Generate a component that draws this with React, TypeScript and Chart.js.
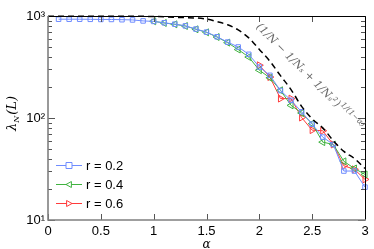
import React, { useEffect, useRef } from "react";
import { Chart, registerables } from "chart.js";

Chart.register(...registerables);

const blueAlpha = [0.1, 0.2, 0.3, 0.4, 0.5, 0.6, 0.7, 0.8, 0.9, 1.0, 1.1, 1.2, 1.3, 1.4, 1.5, 1.6, 1.7, 1.8, 1.9, 2.0, 2.1, 2.2, 2.3, 2.4, 2.5, 2.6, 2.7, 2.8, 2.9, 3.0];
const blueValues = [930, 930, 930, 928, 925, 925, 920, 915, 895, 885, 858, 832, 800, 745, 695, 625, 555, 497, 421, 316, 262, 186, 149, 115, 87, 65, 55, 30.2, 30.2, 21];

const greenAlpha = [1.0, 1.1, 1.2, 1.3, 1.4, 1.5, 1.6, 1.7, 1.8, 1.9, 2.0, 2.1, 2.2, 2.3, 2.4, 2.5, 2.6, 2.7, 2.8, 2.9, 3.0];
const greenValues = [887, 854, 829, 798, 741, 692, 622, 548, 469, 396, 294, 248, 187, 133, 112, 88, 58, 55, 37.6, 32, 28];

const redAlpha = [2.0, 2.1, 2.2, 2.3, 2.4, 2.5, 2.6, 2.7, 2.8, 2.9, 3.0];
const redValues = [329, 252, 155, 155, 101, 76, 75, 55, 34, 31.4, 25];

const boundAlpha = [0, 0.5, 1.0, 1.2, 1.5, 1.6, 1.7, 1.8, 1.9, 2.0, 2.1, 2.2, 2.3, 2.4, 2.5, 2.6, 2.7, 2.8, 2.9, 3.0];
const boundValues = [995, 995, 990, 970, 935, 880, 820, 730, 610, 470, 360, 260, 190, 130, 98, 80, 60, 47, 40, 32];

const xTicks = [0, 0.5, 1, 1.5, 2, 2.5, 3];
const yMajor = [10, 100, 1000];
const yTickLabels: Record<number, string> = { 10: "10\u00b9", 100: "10\u00b2", 1000: "10\u00b3" };
const seriesLabels = ["r = 0.2", "r = 0.4", "r = 0.6"];

const BLUE = "#6f8cff";
const GREEN = "#3fb23f";
const RED = "#ff3b3b";
const SANS = "'Liberation Sans', Arial, sans-serif";
const SERIF = "'DejaVu Serif', 'Liberation Serif', serif";

const toXY = (xs: number[], ys: number[]) => xs.map((x, i) => ({ x, y: ys[i] }));

function drawMarker(ctx: CanvasRenderingContext2D, kind: string, x: number, y: number, r: number, color: string) {
  ctx.save();
  ctx.strokeStyle = color;
  ctx.fillStyle = "#fff";
  ctx.lineWidth = 1;
  ctx.beginPath();
  if (kind === "rect") {
    ctx.rect(x - r, y - r, 2 * r, 2 * r);
  } else if (kind === "left") {
    ctx.moveTo(x - r, y);
    ctx.lineTo(x + r * 0.8, y - r);
    ctx.lineTo(x + r * 0.8, y + r);
    ctx.closePath();
  } else {
    ctx.moveTo(x + r, y);
    ctx.lineTo(x - r * 0.8, y - r);
    ctx.lineTo(x - r * 0.8, y + r);
    ctx.closePath();
  }
  ctx.fill();
  ctx.stroke();
  ctx.restore();
}

const decorPlugin = {
  id: "decor",
  afterDraw(chart: any) {
    const { ctx, chartArea: a, scales } = chart;
    const xs = scales.x;
    const ys = scales.y;
    ctx.save();
    // ticks
    ctx.strokeStyle = "#555";
    ctx.lineWidth = 1;
    xTicks.forEach((v) => {
      const px = Math.round(xs.getPixelForValue(v)) + 0.5;
      ctx.beginPath();
      ctx.moveTo(px, a.bottom);
      ctx.lineTo(px, a.bottom - 6);
      ctx.moveTo(px, a.top);
      ctx.lineTo(px, a.top + 6);
      ctx.stroke();
    });
    for (let d = 10; d < 1000; d *= 10) {
      for (let m = 1; m < 10; m++) {
        const v = d * m;
        const py = Math.round(ys.getPixelForValue(v)) + 0.5;
        const len = m === 1 ? 7 : 4;
        ctx.beginPath();
        ctx.moveTo(a.left, py);
        ctx.lineTo(a.left + len, py);
        ctx.moveTo(a.right, py);
        ctx.lineTo(a.right - len, py);
        ctx.stroke();
      }
    }
    // frame
    ctx.strokeStyle = "#000";
    ctx.lineWidth = 1;
    ctx.beginPath();
    ctx.moveTo(a.left, a.top + 0.5);
    ctx.lineTo(a.right + 0.5, a.top + 0.5);
    ctx.lineTo(a.right + 0.5, a.bottom);
    ctx.stroke();
    ctx.strokeStyle = "#808080";
    ctx.lineWidth = 1.6;
    ctx.beginPath();
    ctx.moveTo(a.left, a.top);
    ctx.lineTo(a.left, a.bottom);
    ctx.lineTo(a.right + 1, a.bottom);
    ctx.stroke();

    // legend
    const colors = [BLUE, GREEN, RED];
    const kinds = ["rect", "left", "right"];
    seriesLabels.forEach((lab, i) => {
      const y = a.top + 149 + i * 19;
      const x0 = a.left + 8;
      ctx.strokeStyle = colors[i];
      ctx.lineWidth = 1;
      ctx.beginPath();
      ctx.moveTo(x0, y + 0.5);
      ctx.lineTo(x0 + 26, y + 0.5);
      ctx.stroke();
      drawMarker(ctx, kinds[i], x0 + 13, y + 0.5, 3, colors[i]);
      ctx.fillStyle = "#000";
      ctx.font = `13px ${SANS}`;
      ctx.textAlign = "left";
      ctx.textBaseline = "middle";
      ctx.fillText(lab, x0 + 30, y + 1);
    });

    // y title
    ctx.save();
    ctx.translate(13, (a.top + a.bottom) / 2 - 4);
    ctx.rotate(-Math.PI / 2);
    ctx.fillStyle = "#000";
    ctx.textBaseline = "middle";
    ctx.textAlign = "left";
    ctx.font = `italic 13px ${SERIF}`;
    const p1 = "\u03bb";
    const w1 = ctx.measureText(p1).width;
    ctx.font = `italic 8px ${SERIF}`;
    const p2 = "N";
    const w2 = ctx.measureText(p2).width;
    ctx.font = `italic 13px ${SERIF}`;
    const p3 = "(L)";
    const w3 = ctx.measureText(p3).width;
    let sx = -(w1 + w2 + w3) / 2;
    ctx.fillText(p1, sx, 0);
    sx += w1;
    ctx.font = `italic 8px ${SERIF}`;
    ctx.fillText(p2, sx, 4);
    sx += w2 + 1;
    ctx.font = `italic 13px ${SERIF}`;
    ctx.fillText(p3, sx, 0);
    ctx.restore();

    // x title
    ctx.fillStyle = "#000";
    ctx.font = `italic 12px ${SERIF}`;
    ctx.textAlign = "center";
    ctx.textBaseline = "middle";
    ctx.fillText("\u03b1", (a.left + a.right) / 2, 245);

    // formula annotation
    ctx.save();
    ctx.translate(xs.getPixelForValue(2.47), ys.getPixelForValue(255));
    ctx.rotate((45 * Math.PI) / 180);
    ctx.fillStyle = "#6a6a6a";
    ctx.textAlign = "left";
    ctx.textBaseline = "middle";
    ctx.font = `italic 11px ${SERIF}`;
    const main = "(1/N \u2212 1/N\u209b + 1/N\u209b\u00b2)";
    const wm = ctx.measureText(main).width;
    ctx.font = `italic 8px ${SERIF}`;
    const sup = "1/(1\u2212\u03b1)";
    const ws = ctx.measureText(sup).width;
    const start = -(wm + ws) / 2;
    ctx.font = `italic 11px ${SERIF}`;
    ctx.fillText(main, start, 0);
    ctx.font = `italic 8px ${SERIF}`;
    ctx.fillText(sup, start + wm + 1, -4);
    ctx.restore();

    ctx.restore();
  },
};

export default function App() {
  const ref = useRef<HTMLCanvasElement>(null);
  useEffect(() => {
    if (!ref.current) return;
    const chart = new Chart(ref.current, {
      type: "line",
      data: {
        datasets: [
          {
            label: "bound",
            data: toXY(boundAlpha, boundValues),
            borderColor: "#000",
            borderWidth: 1.5,
            borderDash: [6, 4],
            pointRadius: 0,
            fill: false,
            cubicInterpolationMode: "monotone",
          },
          {
            label: seriesLabels[0],
            data: toXY(blueAlpha, blueValues),
            borderColor: BLUE,
            borderWidth: 1,
            pointStyle: "rect",
            pointRadius: 3.2,
            pointBorderColor: BLUE,
            pointBackgroundColor: "rgba(255,255,255,0)",
            pointBorderWidth: 1,
            fill: false,
          },
          {
            label: seriesLabels[1],
            data: toXY(greenAlpha, greenValues),
            borderColor: GREEN,
            borderWidth: 1,
            pointStyle: "triangle",
            pointRotation: -90,
            pointRadius: 4,
            pointBorderColor: GREEN,
            pointBackgroundColor: "rgba(255,255,255,0)",
            pointBorderWidth: 1,
            fill: false,
          },
          {
            label: seriesLabels[2],
            data: toXY(redAlpha, redValues),
            borderColor: RED,
            borderWidth: 1,
            pointStyle: "triangle",
            pointRotation: 90,
            pointRadius: 4,
            pointBorderColor: RED,
            pointBackgroundColor: "rgba(255,255,255,0)",
            pointBorderWidth: 1,
            fill: false,
          },
        ],
      },
      options: {
        responsive: false,
        animation: false,
        clip: false as any,
        layout: { padding: { top: 16, right: 9, left: 0, bottom: 0 } },
        plugins: { legend: { display: false }, tooltip: { enabled: false } },
        scales: {
          x: {
            type: "linear",
            min: 0,
            max: 3,
            grid: { display: false, drawTicks: false, tickLength: 0 },
            border: { display: false },
            afterBuildTicks: (s: any) => {
              s.ticks = xTicks.map((v) => ({ value: v }));
            },
            afterFit: (s: any) => {
              s.height = 29;
            },
            ticks: {
              color: "#000",
              font: { family: SANS, size: 13 },
              padding: 4,
              maxRotation: 0,
              callback: (v: any) => String(v),
            },
          },
          y: {
            type: "logarithmic",
            min: 10,
            max: 1000,
            grid: { display: false, drawTicks: false, tickLength: 0 },
            border: { display: false },
            afterBuildTicks: (s: any) => {
              s.ticks = yMajor.map((v) => ({ value: v }));
            },
            afterFit: (s: any) => {
              s.width = 48;
            },
            ticks: {
              color: "#000",
              font: { family: SANS, size: 13 },
              padding: 3,
              callback: (v: any) => yTickLabels[Number(v)] ?? "",
            },
          },
        },
      },
      plugins: [decorPlugin],
    });
    return () => chart.destroy();
  }, []);
  return (
    <div style={{ position: "fixed", left: 0, top: 0, width: 374, height: 249, background: "#fff" }}>
      <canvas ref={ref} width={374} height={249} style={{ display: "block" }} />
    </div>
  );
}
